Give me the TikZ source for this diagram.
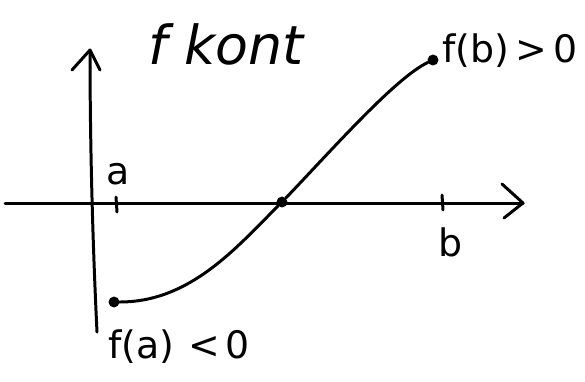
\documentclass[tikz,border=0pt]{standalone}
\usepackage{fontspec}
\setmainfont{DejaVu Sans}
\begin{document}
\begin{tikzpicture}[x=1bp,y=-1bp,
  ink/.style={line width=3pt,line cap=round,line join=round},
  dotnode/.style={circle,fill=black,inner sep=0pt,minimum size=11pt},
  big/.style={font=\fontsize{54}{60}\selectfont\itshape},
  mid/.style={font=\fontsize{38}{42}\selectfont}]
\useasboundingbox (0,0) rectangle (585,381);
% axes
\coordinate (xs) at (5,203);
\coordinate (xe) at (523,203);
\coordinate (ys) at (97,332);
\coordinate (ye) at (90,50);
\draw[ink] (xs) -- (xe);
\draw[ink] (502,184) -- (xe) -- (504,218);
\draw[ink] (ys) .. controls (93,250) and (90,150) .. (ye);
\draw[ink] (72,70) -- (ye) -- (100,70);
% ticks
\coordinate (ta1) at (116,197);
\coordinate (ta2) at (117,212);
\coordinate (tb1) at (442,195);
\coordinate (tb2) at (443,210);
\draw[ink] (ta1) -- (ta2);
\draw[ink] (tb1) -- (tb2);
\node[mid,anchor=base] (la) at (118,184) {a};
\node[mid,anchor=base] (lb) at (451,256) {b};
% points
\node[dotnode] (fa) at (114,302) {};
\node[dotnode] (r) at (282,202) {};
\node[dotnode] (fb) at (433,60) {};
\draw[ink] (fa) .. controls (190,302) and (236,248) .. (r)
  .. controls (330,152) and (395,78) .. (fb);
% labels
\node[big,anchor=base west,inner sep=0pt] (title) at (148,64) {f kont};
\node[mid,anchor=base west,inner sep=0pt] (lfb) at (442,62) {f(b)\,>\,0};
\node[mid,anchor=base west,inner sep=0pt] (lfa) at (108,358) {f(a)\hspace{14pt}<\hspace{6pt}0};
\end{tikzpicture}
\end{document}
